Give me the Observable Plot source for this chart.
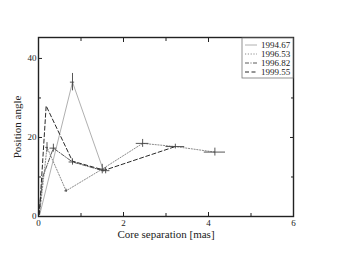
<!DOCTYPE html>
<html><head><meta charset="utf-8">
<script src="https://cdn.jsdelivr.net/npm/d3@7"></script>
<script src="https://cdn.jsdelivr.net/npm/@observablehq/plot@0.6"></script>
<style>body{margin:0;background:#fff} svg text{font-family:"Liberation Serif", serif !important}</style>
</head><body><div id="chart"></div>
<script>
const seriesNames = ["1994.67", "1996.53", "1996.82", "1999.55"];
const seriesColors = ["#b0b0b0", "#8a8a8a", "#5a5a5a", "#2a2a2a"];
const seriesDash = ["none", "1.2,1.6", "4,1.5,1,1.5", "4,2.5"];

const x9467 = [0.03, 0.8, 1.5];
const y9467 = [0.5, 34, 12.5];
const x9653 = [0.03, 0.2, 0.65, 1.5, 2.45, 3.22, 4.15];
const y9653 = [1, 17.5, 6.5, 12, 18.5, 17.7, 16.3];
const x9682 = [0.02, 0.1, 0.35, 0.8, 1.55];
const y9682 = [2, 10, 17.3, 13.8, 11.5];
const x9955 = [0.02, 0.18, 0.8, 1.55, 3.22];
const y9955 = [0.5, 28, 14, 11.7, 17.7];

// error bars: x, y, xerr, yerr
const ebX = [0.8, 0.2, 0.35, 0.8, 1.5, 1.58, 2.45, 3.22, 4.15, 0.65];
const ebY = [34, 17.5, 17.3, 13.8, 12, 11.6, 18.5, 17.7, 16.3, 6.5];
const ebXE = [0.05, 0.03, 0.08, 0.08, 0.1, 0.1, 0.15, 0.22, 0.25, 0.03];
const ebYE = [2.2, 1.2, 1.0, 0.8, 1.2, 0.8, 1.0, 0.6, 1.0, 0.4];

const xTicks = [0, 2, 4, 6];
const xMinor = [1, 3, 5];
const yTicks = [0, 20, 40];
const yMinor = [10, 30];

const xs = [x9467, x9653, x9682, x9955];
const ys = [y9467, y9653, y9682, y9955];
const lineData = [];
seriesNames.forEach((s, i) => xs[i].forEach((x, j) => lineData.push({s, x, y: ys[i][j]})));
const eb = ebX.map((x, i) => ({x, y: ebY[i], xe: ebXE[i], ye: ebYE[i]}));

const marks = [];
seriesNames.forEach((s, i) => {
  marks.push(Plot.line(lineData.filter(d => d.s === s), {x: "x", y: "y", stroke: seriesColors[i], strokeWidth: 1, strokeDasharray: seriesDash[i]}));
});
marks.push(Plot.ruleX(eb, {x: "x", y1: d => d.y - d.ye, y2: d => d.y + d.ye, stroke: "#444", strokeWidth: 0.9}));
marks.push(Plot.ruleY(eb, {y: "y", x1: d => d.x - d.xe, x2: d => d.x + d.xe, stroke: "#444", strokeWidth: 0.9}));

const font = "Liberation Serif";
const fmt = d3.format("d");
const blank = () => "";
marks.push(Plot.axisX({anchor: "bottom", ticks: xTicks, tickSize: -4, tickPadding: 7, tickFormat: fmt, fontSize: 9, label: null}));
marks.push(Plot.axisX({anchor: "bottom", ticks: [], tickSize: 0, fontSize: 11, label: "Core separation [mas]", labelAnchor: "center", labelOffset: 21, labelArrow: "none"}));
marks.push(Plot.axisX({anchor: "bottom", ticks: xMinor, tickSize: -3, tickFormat: blank, label: null}));
marks.push(Plot.axisX({anchor: "top", ticks: xTicks, tickSize: -4, tickFormat: blank, label: null}));
marks.push(Plot.axisX({anchor: "top", ticks: xMinor, tickSize: -3, tickFormat: blank, label: null}));
marks.push(Plot.axisY({anchor: "left", ticks: yTicks, tickSize: -4, tickPadding: 6, tickFormat: fmt, fontSize: 9, label: null}));
marks.push(Plot.axisY({anchor: "left", ticks: [], tickSize: 0, fontSize: 11, label: "Position angle", labelAnchor: "center", labelOffset: 25, labelArrow: "none"}));
marks.push(Plot.axisY({anchor: "left", ticks: yMinor, tickSize: -3, tickFormat: blank, label: null}));
marks.push(Plot.axisY({anchor: "right", ticks: yTicks, tickSize: -4, tickFormat: blank, label: null}));
marks.push(Plot.axisY({anchor: "right", ticks: yMinor, tickSize: -3, tickFormat: blank, label: null}));
marks.push(Plot.frame({stroke: "#222", strokeWidth: 1.4}));

const chart = Plot.plot({
  width: 339, height: 262,
  marginLeft: 38, marginRight: 46, marginTop: 37, marginBottom: 46,
  style: {fontFamily: font, fontSize: "11px", color: "#222", background: "#fff"},
  x: {domain: [0, 6]},
  y: {domain: [0, 45.3]},
  marks
});

// legend box inside top-right
const svg = d3.select(chart);
const lx = 242, ly = 38, lw = 51, lh = 40;
const g = svg.append("g").attr("text-anchor", "start");
g.append("rect").attr("x", lx).attr("y", ly).attr("width", lw).attr("height", lh)
  .attr("fill", "#fff").attr("stroke", "#777").attr("stroke-width", 0.8);
seriesNames.forEach((s, i) => {
  const yy = ly + 7 + i * 9;
  g.append("line").attr("x1", lx + 3).attr("x2", lx + 15).attr("y1", yy).attr("y2", yy)
    .attr("stroke", seriesColors[i]).attr("stroke-width", 1)
    .attr("stroke-dasharray", seriesDash[i] === "none" ? null : seriesDash[i]);
  g.append("text").attr("x", lx + 19).attr("y", yy + 3).text(s)
    .attr("text-anchor", "start")
    .attr("font-size", 9).attr("fill", "#222");
});
document.getElementById("chart").appendChild(chart);
</script>
</body></html>
